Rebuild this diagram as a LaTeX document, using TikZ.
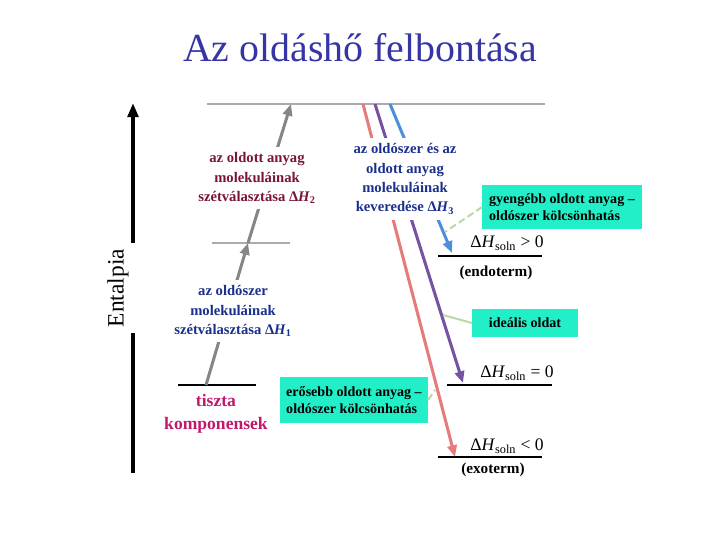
\documentclass[tikz,border=0pt]{standalone}
\usepackage{fontspec}
\setmainfont{Liberation Serif}
\usetikzlibrary{arrows.meta, positioning}

\definecolor{TitleBlue}{HTML}{3535A5}
\definecolor{LabelMaroon}{HTML}{7A1535}
\definecolor{LabelNavy}{HTML}{1B2F8C}
\definecolor{PureMagenta}{HTML}{C2186B}
\definecolor{BoxCyan}{HTML}{22EEC8}
\definecolor{LevelGrey}{HTML}{ABABAB}
\definecolor{StepGrey}{HTML}{868686}
\definecolor{MixRed}{HTML}{E57B7B}
\definecolor{MixPurple}{HTML}{7652A3}
\definecolor{MixBlue}{HTML}{4C8FDB}
\definecolor{HintGreen}{HTML}{B9D8A6}

\tikzset{
    % Title
    titletext/.style={
        font=\fontsize{34}{40}\selectfont,
        text=TitleBlue,
        anchor=base
    },
    % Enthalpy axis label
    axislabel/.style={
        rotate=90,
        fill=white,
        inner xsep=5pt,
        inner ysep=7pt,
        font=\fontsize{20}{24}\selectfont
    },
    % Step description
    steplabel/.style={
        fill=white,
        align=center,
        inner sep=5pt,
        font=\bfseries\fontsize{12.5}{16.5}\selectfont
    },
    % Pure components
    purelabel/.style={
        align=center,
        text=PureMagenta,
        font=\bfseries\fontsize{15}{19.5}\selectfont
    },
    % Interaction box
    hintbox/.style={
        rectangle,
        fill=BoxCyan,
        align=left,
        font=\bfseries\fontsize{12}{15}\selectfont
    },
    % Solution enthalpy value
    dhlabel/.style={
        font=\fontsize{15}{18}\selectfont
    },
    % Endo/exo note
    sidelabel/.style={
        font=\bfseries\fontsize{13}{16}\selectfont
    },
    % Energy level
    level/.style={
        line width=1.2pt
    },
    % Axis
    axisline/.style={
        line width=3.4pt,
        -{Triangle[length=12pt,width=9pt]}
    },
    % Separation steps
    steparrow/.style={
        StepGrey,
        line width=2.6pt,
        -{Triangle[length=10pt,width=8pt]}
    },
    % Mixing steps
    mixarrow/.style={
        line width=2.6pt,
        -{Triangle[length=10pt,width=8pt]}
    },
    % Pointer to a box
    hint/.style={
        HintGreen,
        line width=1.7pt
    },
    % Dashed pointer
    hintdash/.style={
        hint,
        dash pattern=on 6pt off 3pt
    }
}

\begin{document}
\begin{tikzpicture}[x=0.03cm, y=-0.03cm]
    \useasboundingbox (0,0) rectangle (720,540);

    \node (title) [titletext] at (360,62) {Az oldáshő felbontása};

    % Axis
    \coordinate (axisBot) at (133,473);
    \coordinate (axisTop) at (133,103);
    \draw [axisline] (axisBot) -- (axisTop);
    \node (entalpia) [axislabel] at (118,288) {Entalpia};

    % Levels
    \coordinate (pureL) at (178,385);
    \coordinate (pureR) at (256,385);
    \coordinate (solvL) at (212,243);
    \coordinate (solvR) at (290,243);
    \coordinate (topL) at (207,104);
    \coordinate (topR) at (545,104);
    \coordinate (endoL) at (438,256);
    \coordinate (endoR) at (542,256);
    \coordinate (idealL) at (447,385);
    \coordinate (idealR) at (552,385);
    \coordinate (exoL) at (438,457);
    \coordinate (exoR) at (542,457);
    \draw [level] (pureL) -- (pureR);
    \draw [level, LevelGrey] (solvL) -- (solvR);
    \draw [level, LevelGrey] (topL) -- (topR);
    \draw [level] (endoL) -- (endoR);
    \draw [level] (idealL) -- (idealR);
    \draw [level] (exoL) -- (exoR);

    % Separation steps
    \coordinate (step0) at (206,385);
    \coordinate (step1) at (248,243);
    \coordinate (step2) at (291,104);
    \draw [steparrow] (step0) -- (step1);
    \draw [steparrow] (step1) -- (step2);

    % Mixing steps
    \coordinate (redTop) at (363,104);
    \coordinate (redEnd) at (455,457);
    \coordinate (purpleTop) at (375,104);
    \coordinate (purpleEnd) at (463,383);
    \coordinate (blueTop) at (390,104);
    \coordinate (blueEnd) at (452,253);
    \draw [mixarrow, MixRed] (redTop) -- (redEnd);
    \draw [mixarrow, MixPurple] (purpleTop) -- (purpleEnd);
    \draw [mixarrow, MixBlue] (blueTop) -- (blueEnd);

    % Step labels
    \node (dh2) [steplabel, text=LabelMaroon] at (257,178) {az oldott anyag\\molekuláinak\\szétválasztása Δ\textit{H}\textsubscript{2}};
    \node (dh3) [steplabel, text=LabelNavy] at (405,179) {az oldószer és az\\oldott anyag\\molekuláinak\\keveredése Δ\textit{H}\textsubscript{3}};
    \node (dh1) [steplabel, text=LabelNavy] at (233,311) {az oldószer\\molekuláinak\\szétválasztása Δ\textit{H}\textsubscript{1}};
    \node (pure) [purelabel] at (216,414) {tiszta\\komponensek};

    % Results
    \node (endoval) [dhlabel] at (507,243) {Δ\textit{H}\textsubscript{soln} > 0};
    \node (endo) [sidelabel] at (496,273) {(endoterm)};
    \node (idealval) [dhlabel] at (517,373) {Δ\textit{H}\textsubscript{soln} = 0};
    \node (exoval) [dhlabel] at (507,446) {Δ\textit{H}\textsubscript{soln} < 0};
    \node (exo) [sidelabel] at (493,470) {(exoterm)};

    % Interaction boxes
    \node (weakbox) [hintbox, minimum width=136pt, minimum height=37.5pt] at (562,207) {gyengébb oldott anyag –\\oldószer kölcsönhatás};
    \node (idealbox) [hintbox, minimum width=90pt, minimum height=24pt] at (525,323) {ideális oldat};
    \node (strongbox) [hintbox, minimum width=126pt, minimum height=39pt] at (354,400) {erősebb oldott anyag –\\oldószer kölcsönhatás};

    \coordinate (blueHit) at (445,232);
    \coordinate (purpleHit) at (443,315);
    \coordinate (redHit) at (435,390);
    \draw [hintdash] (weakbox.west) -- (blueHit);
    \draw [hint] (idealbox.west) -- (purpleHit);
    \draw [hintdash] (strongbox.east) -- (redHit);
\end{tikzpicture}
\end{document}
